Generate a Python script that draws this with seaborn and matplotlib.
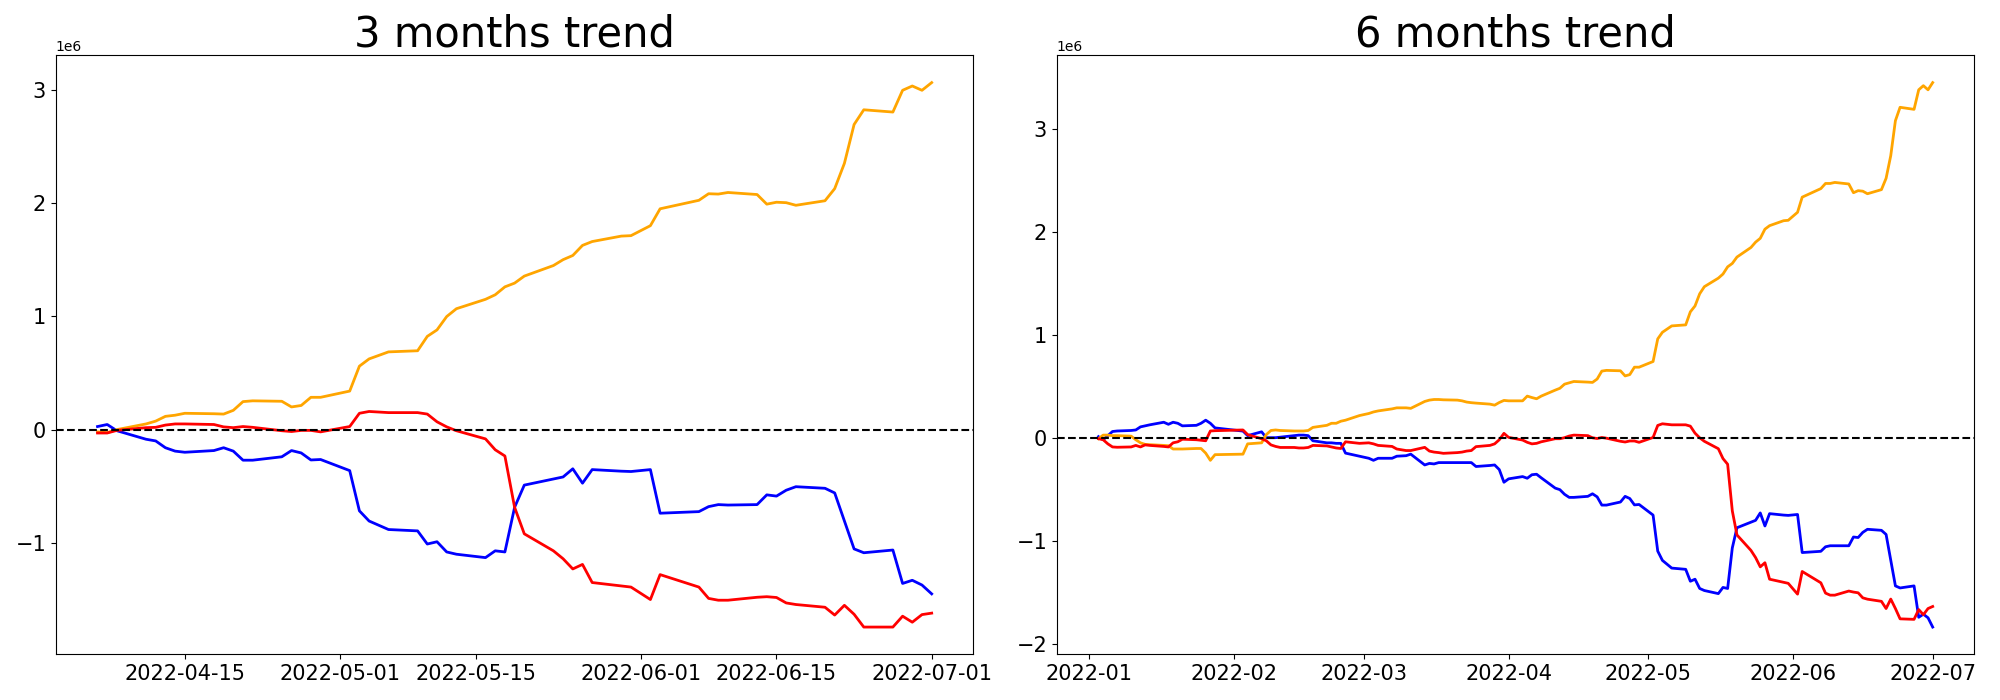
import matplotlib.pyplot as plt
import pandas as pd
import seaborn as sns

# KRX closed days in the first half of 2022
KRX_HOLIDAYS = [
    "2022-01-31", "2022-02-01", "2022-02-02", "2022-03-01",
    "2022-03-09", "2022-05-05", "2022-06-01", "2022-06-06",
]
dates_3m = pd.bdate_range("2022-04-06", "2022-07-01", freq="C", holidays=KRX_HOLIDAYS)
dates_6m = pd.bdate_range("2022-01-03", "2022-07-01", freq="C", holidays=KRX_HOLIDAYS)

# cumulative net values (x 1e6), 3 month window
blue_3m = [
    0.027, 0.045, -0.01, -0.085, -0.10, -0.16, -0.19, -0.20, -0.185, -0.16,
    -0.19, -0.27, -0.27, -0.24, -0.185, -0.206, -0.268, -0.264, -0.362, -0.717,
    -0.807, -0.882, -0.894, -1.01, -0.99, -1.08, -1.10, -1.13, -1.07, -1.08,
    -0.686, -0.49, -0.436, -0.418, -0.346, -0.473, -0.353, -0.367, -0.37, -0.353,
    -0.738, -0.724, -0.68, -0.662, -0.666, -0.662, -0.576, -0.587, -0.535, -0.504,
    -0.518, -0.559, -0.806, -1.053, -1.087, -1.063, -1.358, -1.33, -1.372, -1.45,
]
orange_3m = [
    -0.02, -0.027, 0.0, 0.05, 0.075, 0.117, 0.127, 0.144, 0.14, 0.137,
    0.17, 0.247, 0.254, 0.25, 0.20, 0.213, 0.285, 0.285, 0.34, 0.56,
    0.624, 0.686, 0.696, 0.823, 0.88, 0.998, 1.067, 1.15, 1.19, 1.26,
    1.293, 1.355, 1.448, 1.50, 1.537, 1.626, 1.66, 1.708, 1.712, 1.80,
    1.949, 2.024, 2.082, 2.079, 2.093, 2.075, 1.99, 2.007, 2.003, 1.98,
    2.02, 2.127, 2.35, 2.693, 2.823, 2.803, 2.995, 3.033, 2.995, 3.063,
]
red_3m = [
    -0.03, -0.03, -0.007, 0.017, 0.02, 0.04, 0.05, 0.05, 0.045, 0.024,
    0.017, 0.027, 0.02, -0.01, -0.017, -0.007, -0.007, -0.02, 0.027, 0.144,
    0.16, 0.15, 0.15, 0.137, 0.069, 0.024, -0.01, -0.082, -0.178, -0.233,
    -0.686, -0.92, -1.07, -1.14, -1.23, -1.19, -1.35, -1.38, -1.39, -1.50,
    -1.28, -1.39, -1.49, -1.506, -1.506, -1.48, -1.475, -1.482, -1.53, -1.544,
    -1.568, -1.637, -1.551, -1.63, -1.743, -1.743, -1.647, -1.70, -1.633, -1.62,
]

# cumulative net values (x 1e6), 6 month window
blue_6m = [
    0.01, -0.02, 0.02, 0.06, 0.065, 0.07, 0.075, 0.105, 0.115, 0.125,
    0.15, 0.13, 0.15, 0.14, 0.115, 0.12, 0.14, 0.17, 0.14, 0.095,
    0.064, 0.02, 0.057, 0.0, 0.0, 0.0, 0.005, 0.02, 0.025, 0.025,
    0.02, -0.03, -0.05, -0.05, -0.055, -0.055, -0.15, -0.18,
    -0.20, -0.22, -0.20, -0.20, -0.18, -0.175, -0.16, -0.265, -0.25, -0.255,
    -0.242, -0.242, -0.242, -0.242, -0.242, -0.242, -0.28, -0.27, -0.265, -0.31,
    -0.433,
    -0.40, -0.378, -0.394, -0.36, -0.355, -0.39, -0.49, -0.505, -0.55, -0.58,
    -0.58, -0.57, -0.545, -0.575, -0.655, -0.655, -0.625, -0.57, -0.591, -0.653,
    -0.649,
    -0.752, -1.102, -1.192, -1.267, -1.279, -1.395, -1.375, -1.465, -1.485, -1.515,
    -1.455, -1.465, -1.071, -0.875, -0.821, -0.803, -0.731, -0.858, -0.738, -0.752,
    -0.755,
    -0.746, -1.116, -1.104, -1.06, -1.05, -1.05, -1.05, -0.965, -0.97, -0.92,
    -0.89, -0.90, -0.94, -1.19, -1.44, -1.46, -1.44, -1.745, -1.715, -1.75,
    -1.84,
]
orange_6m = [
    -0.01, 0.025, 0.025, 0.02, 0.02, 0.015, -0.02, -0.05, -0.065, -0.068,
    -0.075, -0.078, -0.11, -0.11, -0.11, -0.105, -0.105, -0.15, -0.22, -0.165,
    -0.16, -0.06, -0.05, 0.03, 0.07, 0.075, 0.07, 0.065, 0.065, 0.065,
    0.07, 0.10, 0.12, 0.14, 0.14, 0.16, 0.17, 0.215,
    0.235, 0.25, 0.26, 0.28, 0.29, 0.29, 0.285, 0.352, 0.365, 0.371,
    0.371, 0.368, 0.365, 0.358, 0.346, 0.34, 0.336, 0.326, 0.316, 0.342,
    0.362,
    0.358, 0.358, 0.404, 0.39, 0.378, 0.404, 0.462, 0.48, 0.52, 0.533,
    0.546, 0.54, 0.537, 0.57, 0.647, 0.654, 0.65, 0.60, 0.613, 0.685,
    0.685,
    0.74, 0.96, 1.024, 1.086, 1.096, 1.223, 1.28, 1.398, 1.467, 1.55,
    1.59, 1.66, 1.693, 1.755, 1.848, 1.90, 1.937, 2.026, 2.06, 2.108,
    2.112,
    2.19, 2.337, 2.42, 2.47, 2.47, 2.48, 2.465, 2.38, 2.40, 2.395,
    2.37, 2.41, 2.52, 2.74, 3.08, 3.21, 3.19, 3.38, 3.42, 3.38,
    3.45,
]
red_6m = [
    -0.01, -0.02, -0.06, -0.09, -0.093, -0.09, -0.075, -0.09, -0.07, -0.075,
    -0.085, -0.09, -0.05, -0.04, -0.015, -0.02, -0.025, -0.03, 0.065, 0.068,
    0.075, 0.03, -0.01, -0.03, -0.07, -0.085, -0.095, -0.095, -0.10, -0.10,
    -0.095, -0.075, -0.08, -0.09, -0.10, -0.105, -0.04, -0.055,
    -0.05, -0.06, -0.075, -0.085, -0.11, -0.125, -0.125, -0.094, -0.13, -0.14,
    -0.145, -0.152, -0.145, -0.14, -0.13, -0.125, -0.087, -0.075, -0.06, -0.02,
    0.042,
    0.003, -0.023, -0.045, -0.06, -0.055, -0.04, -0.01, -0.01, 0.0, 0.016,
    0.025, 0.02, -0.001, -0.008, 0.002, -0.005, -0.035, -0.042, -0.032, -0.032,
    -0.045,
    0.002, 0.119, 0.135, 0.125, 0.125, 0.112, 0.044, -0.001, -0.035, -0.107,
    -0.203, -0.258, -0.711, -0.945, -1.095, -1.165, -1.255, -1.215, -1.375, -1.405,
    -1.415,
    -1.52, -1.30, -1.41, -1.51, -1.53, -1.53, -1.49, -1.50, -1.507, -1.556,
    -1.569, -1.59, -1.66, -1.568, -1.66, -1.76, -1.765, -1.67, -1.72, -1.66,
    -1.64,
]

PALETTE = {"blue": "blue", "orange": "orange", "red": "red"}
SCALE = 1e6


def plot_trend(ax, dates, blue, orange, red, title):
    df = pd.DataFrame({"date": dates, "blue": blue, "orange": orange, "red": red})
    long_df = df.melt(id_vars="date", var_name="line", value_name="value")
    long_df["value"] = long_df["value"] * SCALE

    sns.lineplot(
        data=long_df, x="date", y="value", hue="line",
        palette=PALETTE, linewidth=2, legend=False, ax=ax,
    )
    ax.axhline(0, color="black", linestyle="--", linewidth=1.5)

    ax.set_title(title, fontsize=30)
    ax.set_xlabel("")
    ax.set_ylabel("")
    ax.tick_params(labelsize=15)


fig, axes = plt.subplots(1, 2, figsize=(20, 7), dpi=100)
fig.subplots_adjust(left=0.0279, right=0.9872, bottom=0.0653, top=0.9209, wspace=0.0909)

plot_trend(axes[0], dates_3m, blue_3m, orange_3m, red_3m, "3 months trend")
plot_trend(axes[1], dates_6m, blue_6m, orange_6m, red_6m, "6 months trend")

fig.savefig("out.png", dpi=100)
